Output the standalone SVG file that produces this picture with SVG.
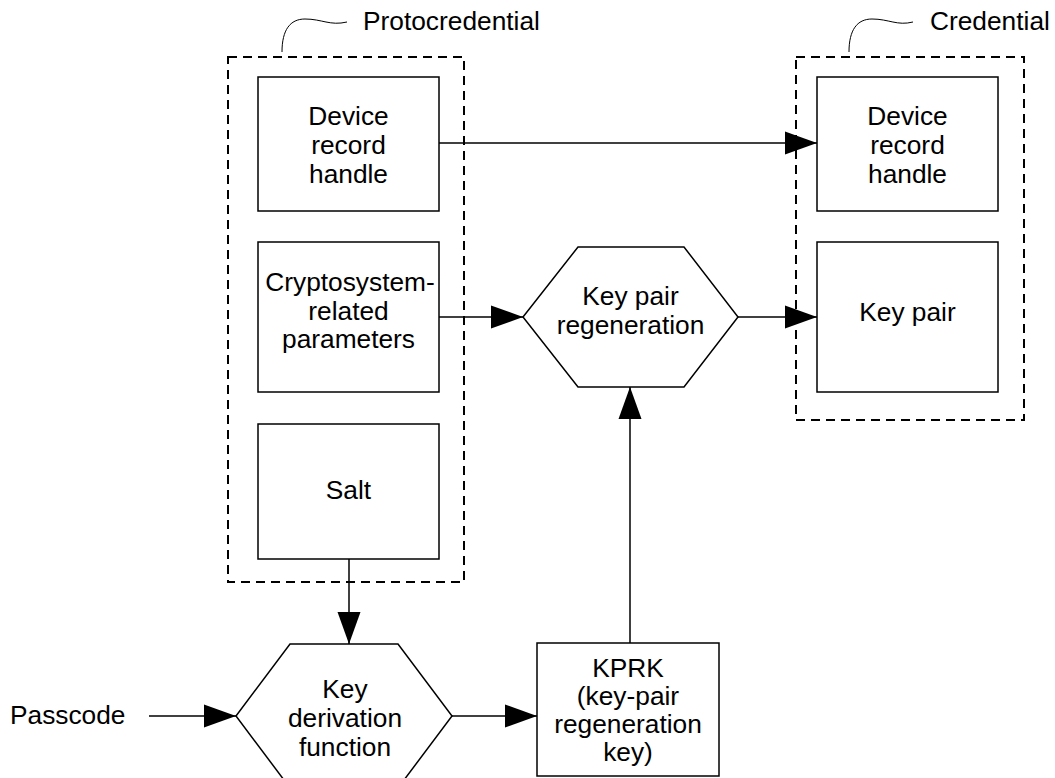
<svg xmlns="http://www.w3.org/2000/svg" width="1055" height="778" viewBox="0 0 1055 778">
  <defs>
    <marker id="arrow" markerUnits="userSpaceOnUse" markerWidth="32" markerHeight="24" refX="32" refY="12" orient="auto">
      <path d="M0,0.5 L32,12 L0,23.5 Z" fill="#000"/>
    </marker>
    <style>
      .box { fill: #fff; stroke: #000; stroke-width: 1.5; }
      .group { fill: none; stroke: #000; stroke-width: 2; stroke-dasharray: 9 6; }
      .edge { fill: none; stroke: #000; stroke-width: 1.5; }
      .note { fill: none; stroke: #000; stroke-width: 1; }
      text { font-family: "Liberation Sans", Arial, sans-serif; font-size: 26.3px; fill: #000; }
      .c { text-anchor: middle; }
    </style>
  </defs>
  <rect width="1055" height="778" fill="#fff"/>

  <!-- dashed containers -->
  <g id="protocredential">
    <rect class="group" x="228" y="57" width="236" height="525"/>
    <path class="note" d="M282,52 C282,30 290,19 305,19 C322,19 330,26 347,22"/>
    <text x="363" y="30">Protocredential</text>
  </g>
  <g id="credential">
    <rect class="group" x="796" y="57" width="228" height="363"/>
    <path class="note" d="M849,52 C849,30 857,19 872,19 C889,19 897,26 913,22"/>
    <text x="930" y="30">Credential</text>
  </g>

  <!-- protocredential fields -->
  <g id="proto-handle">
    <rect class="box" x="258" y="77" width="181" height="134"/>
    <text class="c" x="348.5" y="125">Device</text>
    <text class="c" x="348.5" y="154">record</text>
    <text class="c" x="348.5" y="183">handle</text>
  </g>
  <g id="proto-params">
    <rect class="box" x="258" y="242" width="181" height="150"/>
    <text class="c" x="350" y="291">Cryptosystem-</text>
    <text class="c" x="348.5" y="320">related</text>
    <text class="c" x="348.5" y="348">parameters</text>
  </g>
  <g id="proto-salt">
    <rect class="box" x="258" y="424" width="181" height="135"/>
    <text class="c" x="348.5" y="499">Salt</text>
  </g>

  <!-- credential fields -->
  <g id="cred-handle">
    <rect class="box" x="817" y="77" width="181" height="134"/>
    <text class="c" x="907.5" y="125">Device</text>
    <text class="c" x="907.5" y="154">record</text>
    <text class="c" x="907.5" y="183">handle</text>
  </g>
  <g id="cred-keypair">
    <rect class="box" x="817" y="242" width="181" height="150"/>
    <text class="c" x="907.5" y="321">Key pair</text>
  </g>

  <!-- processes -->
  <g id="keypair-regen">
    <polygon class="box" points="523,317 578,247 684,247 738,317 684,387 578,387"/>
    <text class="c" x="630.5" y="305">Key pair</text>
    <text class="c" x="630.5" y="334">regeneration</text>
  </g>
  <g id="kdf">
    <polygon class="box" points="236,716 290,644 398,644 452,716 398,788 290,788"/>
    <text class="c" x="345" y="698">Key</text>
    <text class="c" x="345" y="727">derivation</text>
    <text class="c" x="345" y="756">function</text>
  </g>
  <g id="kprk">
    <rect class="box" x="537" y="643" width="182" height="133"/>
    <text class="c" x="628" y="677">KPRK</text>
    <text class="c" x="628" y="705">(key-pair</text>
    <text class="c" x="628" y="733">regeneration</text>
    <text class="c" x="628" y="761">key)</text>
  </g>
  <g id="passcode">
    <text x="10" y="724">Passcode</text>
  </g>

  <!-- connectors -->
  <g id="connectors">
    <line class="edge" x1="439" y1="143" x2="817" y2="143" marker-end="url(#arrow)"/>
    <line class="edge" x1="439" y1="317" x2="523" y2="317" marker-end="url(#arrow)"/>
    <line class="edge" x1="738" y1="317" x2="817" y2="317" marker-end="url(#arrow)"/>
    <line class="edge" x1="349" y1="559" x2="349" y2="644" marker-end="url(#arrow)"/>
    <line class="edge" x1="149" y1="716" x2="236" y2="716" marker-end="url(#arrow)"/>
    <line class="edge" x1="452" y1="716" x2="537" y2="716" marker-end="url(#arrow)"/>
    <line class="edge" x1="630" y1="643" x2="630" y2="387" marker-end="url(#arrow)"/>
  </g>
</svg>
